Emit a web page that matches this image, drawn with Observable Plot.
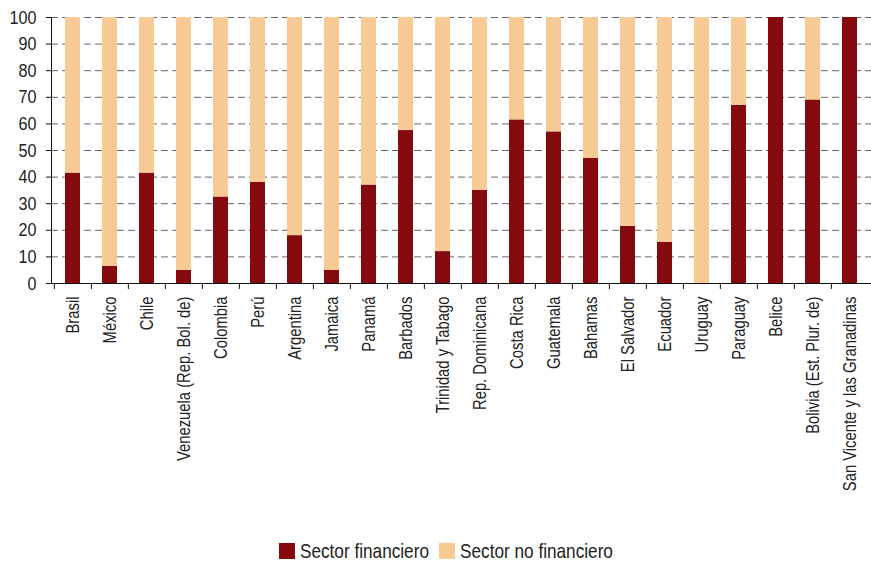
<!DOCTYPE html>
<html>
<head>
<meta charset="utf-8">
<script src="https://cdn.jsdelivr.net/npm/d3@7"></script>
<script src="https://cdn.jsdelivr.net/npm/@observablehq/plot@0.6"></script>
<style>
  body { margin: 0; background: #fff; font-family: "Liberation Sans", Arial, sans-serif; }
  svg { display: block; }
</style>
</head>
<body>
<div id="chart"></div>
<div id="legend"></div>
<script>
const categories = ["Brasil","México","Chile","Venezuela (Rep. Bol. de)","Colombia","Perú","Argentina","Jamaica","Panamá","Barbados","Trinidad y Tabago","Rep. Dominicana","Costa Rica","Guatemala","Bahamas","El Salvador","Ecuador","Uruguay","Paraguay","Belice","Bolivia (Est. Plur. de)","San Vicente y las Granadinas"];
const financiero =   [41.5, 6.5, 41.5, 5, 32.5, 38, 18, 5, 37, 57.5, 12, 35, 61.5, 57, 47, 21.5, 15.5, 0, 67, 100, 69, 100];
const noFinanciero = [58.5, 93.5, 58.5, 95, 67.5, 62, 82, 95, 63, 42.5, 88, 65, 38.5, 43, 53, 78.5, 84.5, 100, 33, 0, 31, 0];
const series = ["Sector financiero", "Sector no financiero"];
const colors = ["#840a0d", "#f7c994"];
const yTicks = [0,10,20,30,40,50,60,70,80,90,100];

const data = [];
categories.forEach((c, i) => {
  data.push({country: c, sector: series[0], value: financiero[i]});
  data.push({country: c, sector: series[1], value: noFinanciero[i]});
});

const W = 871, H = 520, ML = 51, MR = 0, MT = 17, MB = 237;
const step = (W - ML - MR) / categories.length;
const font = '"Liberation Sans", Arial, sans-serif';
const narrowX = 0.78, narrowY = 0.85, narrowLegend = 0.86;

const chart = Plot.plot({
  width: W, height: H,
  marginLeft: ML, marginRight: MR, marginTop: MT, marginBottom: MB,
  style: {fontFamily: font, fontSize: "19px", color: "#222", background: "white"},
  x: {domain: categories, paddingInner: 0.6, paddingOuter: 0.3, label: null},
  y: {domain: [0, 100], label: null},
  color: {domain: series, range: colors},
  marks: [
    Plot.gridY(yTicks, {stroke: "#666", strokeOpacity: 1, strokeDasharray: "7,4"}),
    Plot.barY(data, {x: "country", y: "value", fill: "sector"}),
    Plot.frame({anchor: "left", stroke: "#111"}),
    Plot.frame({anchor: "bottom", stroke: "#111"}),
    Plot.axisY({ticks: yTicks, tickSize: 5, tickPadding: 10, label: null, stroke: "#111"}),
    Plot.axisX({ticks: categories, tickSize: 6, text: null, dx: -step / 2, label: null, stroke: "#111"}),
    Plot.axisX({ticks: categories, tickSize: 0, tickPadding: 13, tickRotate: -90, label: null, fill: "#222"})
  ]
});
document.getElementById("chart").appendChild(chart);
// condensed look: narrow each text along its own direction
chart.querySelectorAll("text").forEach(t => {
  const g = t.closest("g[aria-label]");
  const isY = g && g.getAttribute("aria-label").startsWith("y-axis");
  const s = isY ? narrowY : narrowX;
  const tr = t.getAttribute("transform") || "";
  t.setAttribute("transform", tr + ` scale(${s},1)`);
});

// legend (below the chart)
const LH = 42;
const lsvg = d3.select("#legend").append("svg")
  .attr("width", W).attr("height", LH)
  .style("font-family", font).style("font-size", "20px");
const items = lsvg.selectAll("g").data(series).join("g");
items.append("rect").attr("width", 16).attr("height", 16).attr("y", 23)
  .attr("fill", (d, i) => colors[i]);
const texts = items.append("text").attr("x", 0).attr("y", 38).attr("fill", "#222").text(d => d);
const widths = texts.nodes().map(n => n.getComputedTextLength() * narrowLegend);
const gapSw = 5, gapItem = 10, sw = 16;
const total = widths.reduce((a, w) => a + sw + gapSw + w, 0) + gapItem * (series.length - 1);
let cx = 446 - total / 2;
items.each(function(d, i) {
  const g = d3.select(this);
  g.attr("transform", `translate(${cx},0)`);
  g.select("text").attr("transform", `translate(${sw + gapSw},0) scale(${narrowLegend},1)`);
  cx += sw + gapSw + widths[i] + gapItem;
});
</script>
</body>
</html>
